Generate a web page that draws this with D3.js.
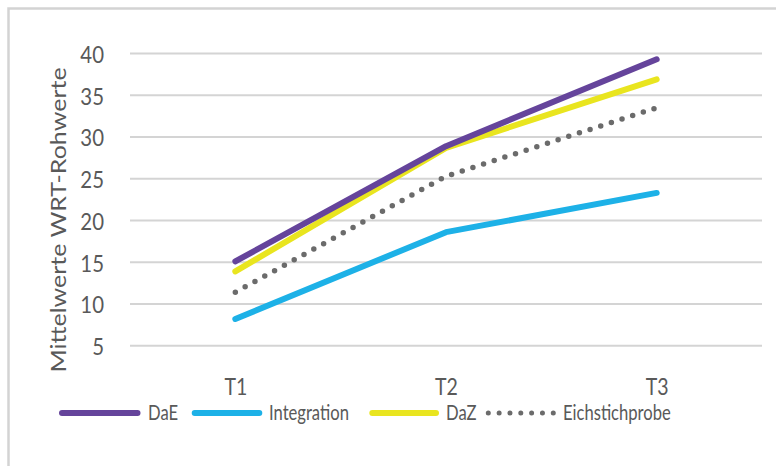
<!DOCTYPE html>
<html>
<head>
<meta charset="utf-8">
<script src="https://cdn.jsdelivr.net/npm/d3@7"></script>
<style>
  html, body { margin: 0; padding: 0; background: #fff; }
  svg text { font-family: Lato, "Open Sans", sans-serif; fill: #595959; }
</style>
</head>
<body>
<svg id="chart" width="776" height="466"></svg>
<script>
// Measurement occasions
const categories = ["T1", "T2", "T3"];

// Mean WRT raw scores per group
const seriesNames = ["DaE", "Integration", "DaZ", "Eichstichprobe"];
const daE = [15.1, 28.9, 39.3];
const integration = [8.2, 18.6, 23.3];
const daZ = [13.9, 28.7, 36.9];
const eichstichprobe = [11.4, 25.3, 33.5];

const yTicks = [5, 10, 15, 20, 25, 30, 35, 40];
const yTitle = "Mittelwerte WRT-Rohwerte";

const series = [
  { name: seriesNames[0], values: daE, color: "#65449b", dotted: false },
  { name: seriesNames[1], values: integration, color: "#1db1e7", dotted: false },
  { name: seriesNames[2], values: daZ, color: "#e9e51f", dotted: false },
  { name: seriesNames[3], values: eichstichprobe, color: "#6b6b6b", dotted: true }
];

const svg = d3.select("#chart");
const sx = 0.85; // horizontal squeeze of the lettering

// chart frame
svg.append("path")
  .attr("d", "M8.5,470 V8.5 H780")
  .attr("fill", "none")
  .attr("stroke", "#d3d3d3")
  .attr("stroke-width", 2.5);

const x = d3.scalePoint().domain(categories).range([130, 762]).padding(0.5);
const y = d3.scaleLinear().domain([5, 40]).range([345.7, 53.5]);

// gridlines
svg.append("g")
  .selectAll("line")
  .data(yTicks)
  .join("line")
  .attr("x1", 130).attr("x2", 762)
  .attr("y1", d => y(d)).attr("y2", d => y(d))
  .attr("stroke", "#d4d4d4")
  .attr("stroke-width", 2);

// y axis labels
const yAxis = svg.append("g")
  .attr("transform", "translate(104,0)")
  .call(d3.axisLeft(y).tickValues(yTicks).tickSize(0).tickPadding(0));
yAxis.select(".domain").remove();
yAxis.selectAll("text")
  .attr("x", 0)
  .attr("dy", "0.37em")
  .attr("transform", `scale(${sx},1)`)
  .style("font-size", "24px")
  .style("font-family", "Lato, sans-serif")
  .attr("fill", "#595959");

// x axis labels
const xAxis = svg.append("g")
  .attr("transform", "translate(0,394.5)")
  .call(d3.axisBottom(x).tickSize(0).tickPadding(0));
xAxis.select(".domain").remove();
xAxis.selectAll("text")
  .attr("y", 0)
  .attr("dy", 0)
  .attr("transform", `scale(${sx},1)`)
  .style("font-size", "23px")
  .style("font-family", "Lato, sans-serif")
  .attr("fill", "#595959");

// y axis title
svg.append("text")
  .attr("transform", `translate(65.5,220) scale(${sx},1) rotate(-90)`)
  .attr("text-anchor", "middle")
  .style("font-size", "25px")
  .text(yTitle);

// lines
const line = d3.line()
  .x((d, i) => x(categories[i]))
  .y(d => y(d));

svg.append("g")
  .selectAll("path")
  .data(series.slice().reverse())
  .join("path")
  .attr("d", d => line(d.values))
  .attr("fill", "none")
  .attr("stroke", d => d.color)
  .attr("stroke-width", d => d.dotted ? 5.5 : 6)
  .attr("stroke-linecap", "round")
  .attr("stroke-linejoin", "round")
  .attr("stroke-dasharray", d => d.dotted ? "0 11.2" : null);

// legend: swatch start, swatch end, label start for each entry
const legendLayout = [
  [62, 137.5, 148],
  [194.7, 259.3, 269],
  [372.3, 436, 446],
  [488.3, 553.3, 563]
];
const legendY = 413;
const legend = svg.append("g")
  .selectAll("g")
  .data(series)
  .join("g");

legend.append("line")
  .attr("x1", (d, i) => legendLayout[i][0])
  .attr("x2", (d, i) => legendLayout[i][1])
  .attr("y1", legendY).attr("y2", legendY)
  .attr("stroke", d => d.color)
  .attr("stroke-width", d => d.dotted ? 5 : 6)
  .attr("stroke-linecap", "round")
  .attr("stroke-dasharray", d => d.dotted ? "0 10.83" : null);

legend.append("text")
  .attr("transform", (d, i) => `translate(${legendLayout[i][2]},${legendY}) scale(0.81,1)`)
  .attr("dy", "0.35em")
  .style("font-size", "20.5px")
  .text(d => d.name);
</script>
</body>
</html>
